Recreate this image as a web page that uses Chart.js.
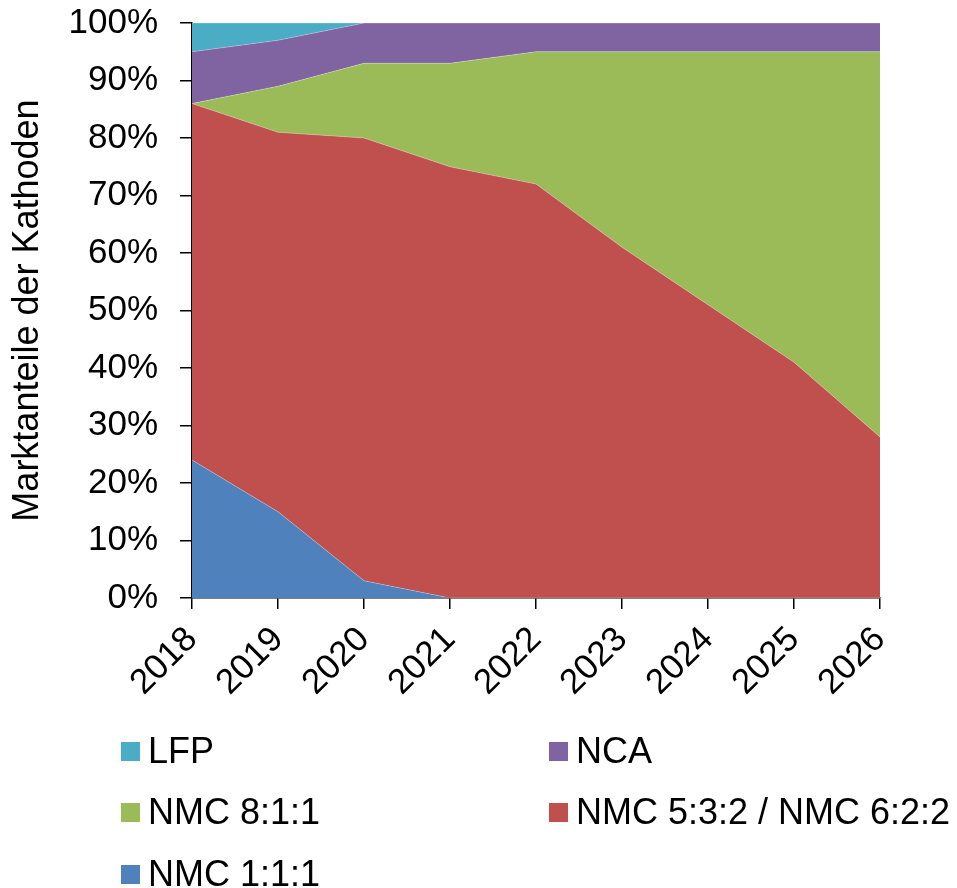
<!DOCTYPE html>
<html>
<head>
<meta charset="utf-8">
<script src="https://cdn.jsdelivr.net/npm/chart.js@4.4.1/dist/chart.umd.min.js"></script>
<style>
  html, body { margin: 0; padding: 0; background: #fff; }
  #wrap { position: relative; width: 957px; height: 888px; }
  #c { position: absolute; left: 0; top: 0; }
  .lg { position: absolute; font-family: "Liberation Sans", Arial, sans-serif; font-size: 36px; color: #000; line-height: 1; white-space: nowrap; }
</style>
</head>
<body>
<div id="wrap">
  <canvas id="c" width="957" height="888"></canvas>
</div>
<script>
const years = ['2018','2019','2020','2021','2022','2023','2024','2025','2026'];
const nmc111 = [24, 15, 3, 0, 0, 0, 0, 0, 0];
const nmc532 = [62, 66, 77, 75, 72, 61, 51, 41, 28];
const nmc811 = [0, 8, 13, 18, 23, 34, 44, 54, 67];
const nca    = [9, 8, 7, 7, 5, 5, 5, 5, 5];
const lfp    = [5, 3, 0, 0, 0, 0, 0, 0, 0];
const seriesNames = ['NMC 1:1:1', 'NMC 5:3:2 / NMC 6:2:2', 'NMC 8:1:1', 'NCA', 'LFP'];
const colors = ['#4F81BD', '#C0504D', '#9BBB59', '#8064A2', '#4BACC6'];
const yTitle = 'Marktanteile der Kathoden';

const FONT = '"Liberation Sans", Arial, sans-serif';
const seriesData = [nmc111, nmc532, nmc811, nca, lfp];

const datasets = seriesData.map((d, i) => ({
  label: seriesNames[i],
  data: d,
  backgroundColor: colors[i],
  borderColor: 'rgba(255,255,255,0.35)',
  borderWidth: 0.8,
  fill: i === 0 ? 'origin' : '-1',
  pointRadius: 0,
  pointHoverRadius: 0,
  tension: 0
}));

new Chart(document.getElementById('c'), {
  type: 'line',
  data: { labels: years, datasets },
  options: {
    responsive: false,
    animation: false,
    events: [],
    layout: { padding: { top: 23, right: 77, left: 0, bottom: 0 } },
    plugins: { legend: { display: false }, tooltip: { enabled: false } },
    scales: {
      x: {
        offset: false,
        grid: { display: true, drawOnChartArea: false, drawTicks: true, tickLength: 11, color: '#000', lineWidth: 1.5 },
        border: { display: true, color: '#000', width: 1.5 },
        ticks: { color: '#000', font: { family: FONT, size: 35 }, minRotation: 45, maxRotation: 45, padding: 10, autoSkip: false },
        afterFit: s => { s.height = 888 - 598; }
      },
      y: {
        stacked: true,
        min: 0, max: 100,
        grid: { display: true, drawOnChartArea: false, drawTicks: true, tickLength: 12, color: '#000', lineWidth: 1.5 },
        border: { display: true, color: '#000', width: 1.5 },
        ticks: { stepSize: 10, color: '#000', font: { family: FONT, size: 35 }, padding: 22, callback: v => v + '%' },
        title: { display: true, text: yTitle, color: '#000', font: { family: FONT, size: 36 }, padding: { top: 6, bottom: 0 } },
        afterFit: s => { s.width = 192; s.paddingTop = 0; s.paddingBottom = 0; }
      }
    }
  }
});

// HTML legend (two columns as in the reference)
const legendItems = [
  { idx: 4, x: 121, y: 751 },
  { idx: 3, x: 549, y: 751 },
  { idx: 2, x: 121, y: 812 },
  { idx: 1, x: 549, y: 812 },
  { idx: 0, x: 121, y: 874 }
];
const wrap = document.getElementById('wrap');
legendItems.forEach(it => {
  const box = document.createElement('div');
  box.style.cssText = `position:absolute;left:${it.x}px;top:${it.y - 9}px;width:19px;height:19px;background:${colors[it.idx]};`;
  wrap.appendChild(box);
  const t = document.createElement('div');
  t.className = 'lg';
  t.textContent = seriesNames[it.idx];
  t.style.left = (it.x + 27) + 'px';
  t.style.top = (it.y - 18) + 'px';
  wrap.appendChild(t);
});
</script>
</body>
</html>
